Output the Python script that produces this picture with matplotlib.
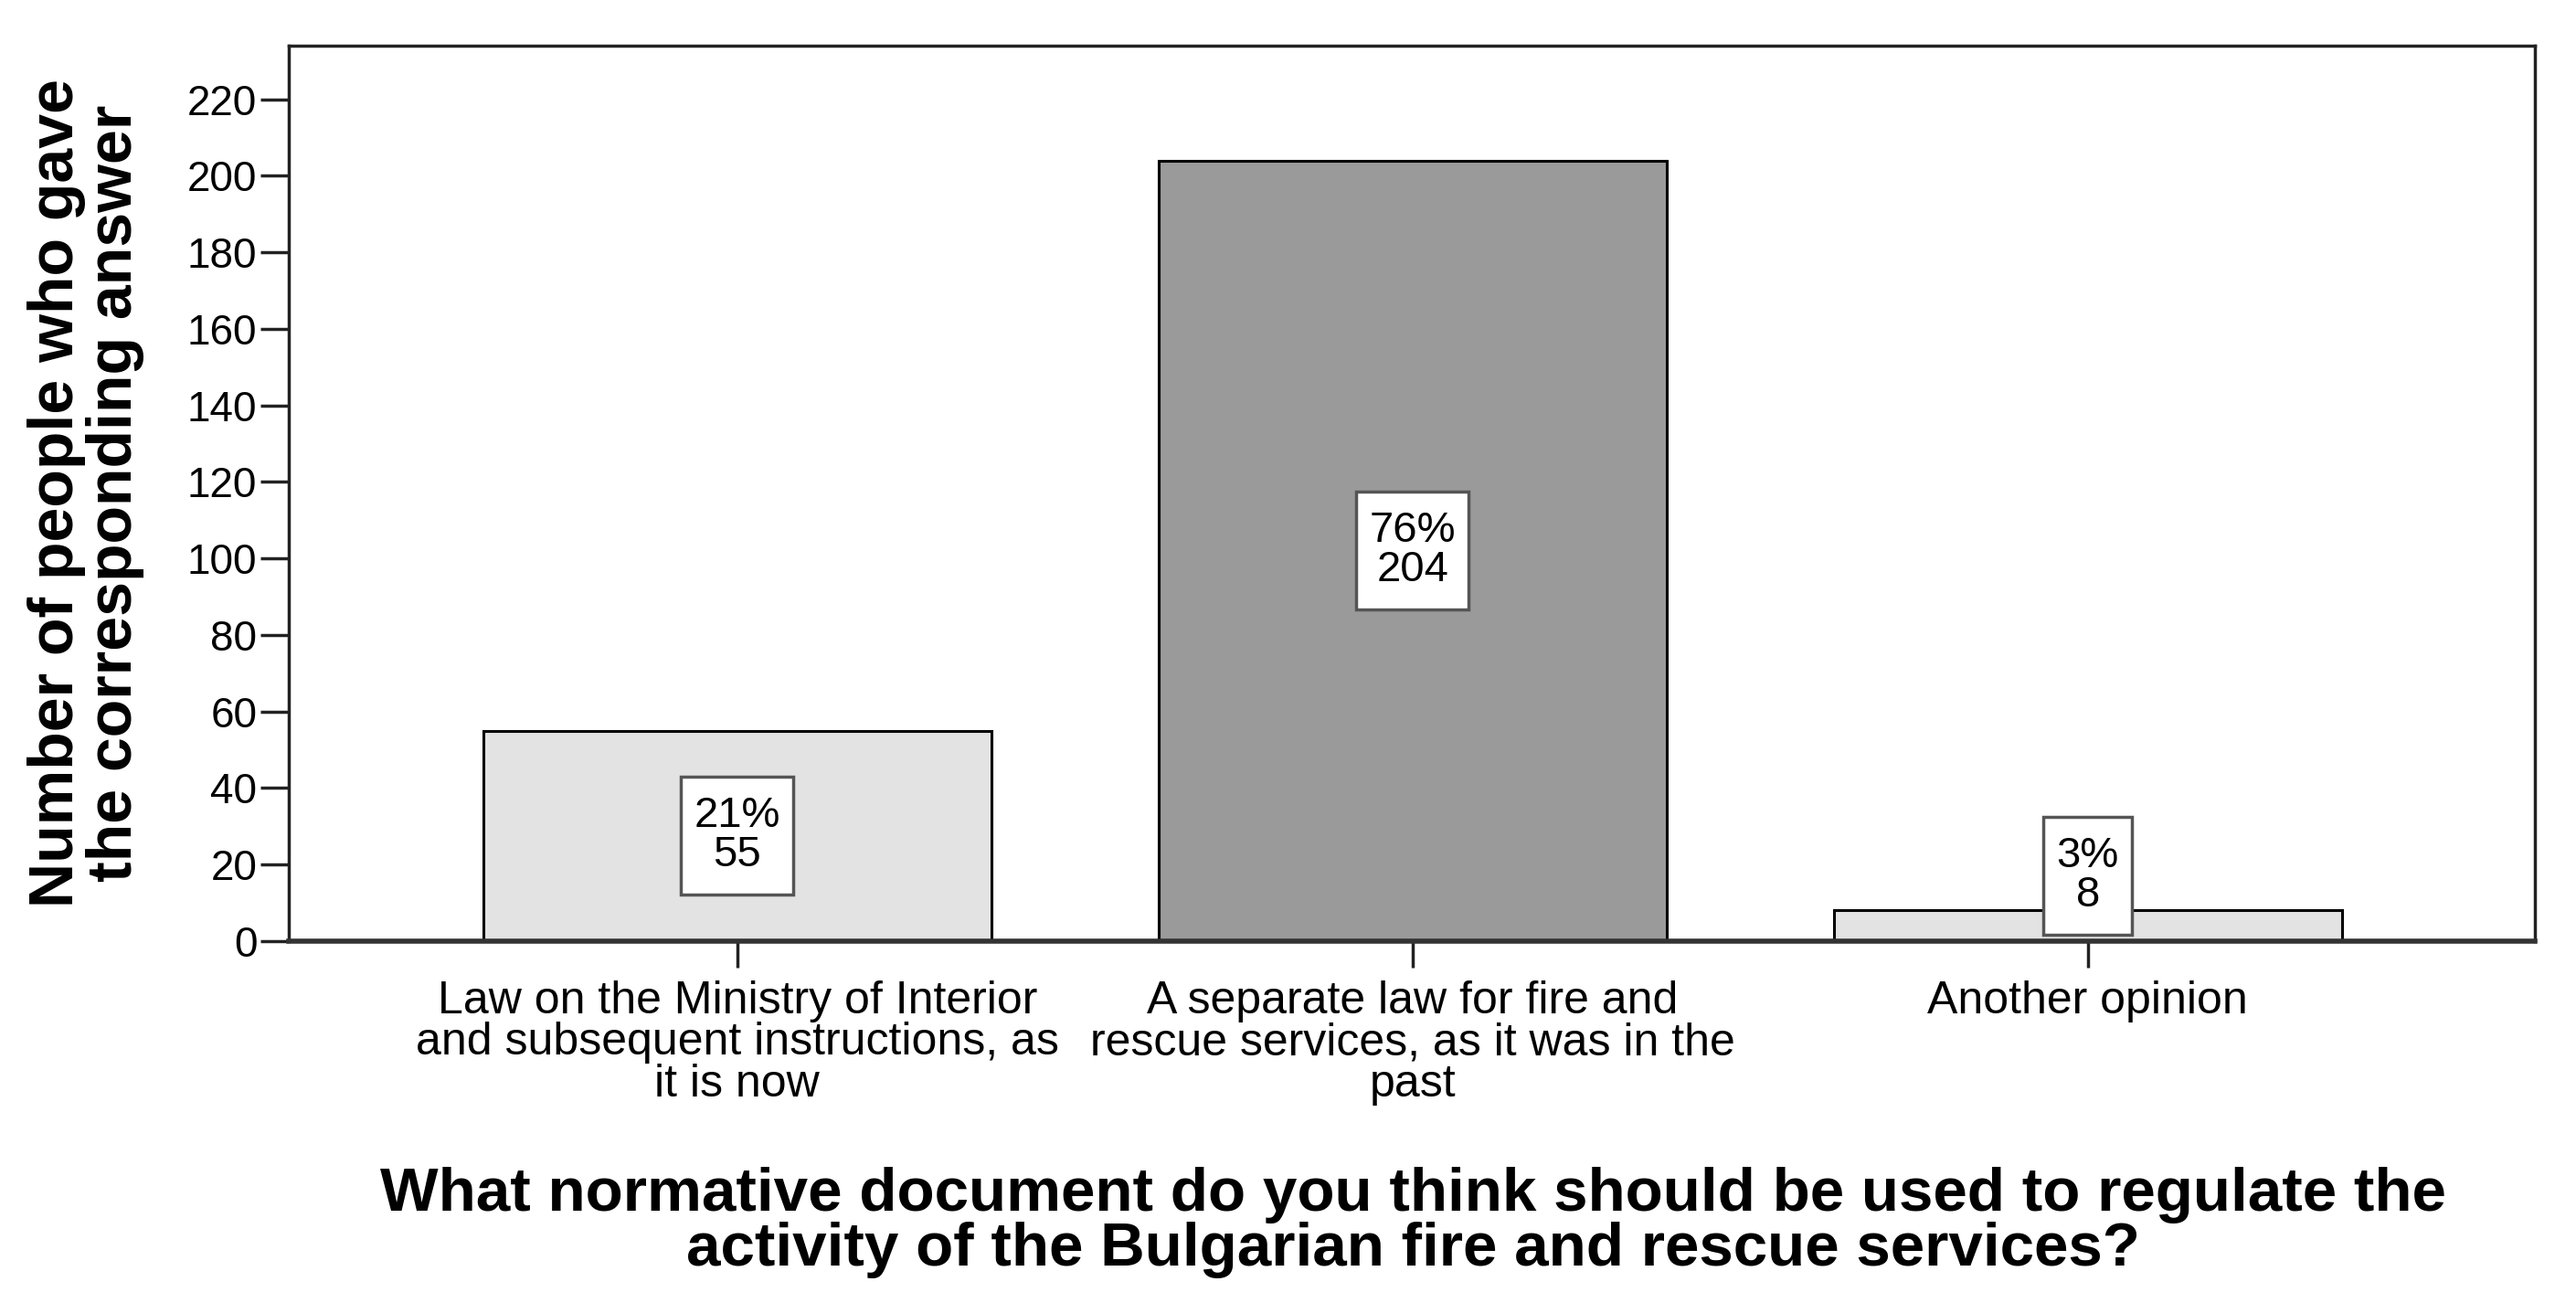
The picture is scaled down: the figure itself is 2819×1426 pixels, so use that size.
import matplotlib
matplotlib.use('Agg')
import matplotlib.pyplot as plt
from matplotlib.path import Path

categories = ["Law on the Ministry of Interior\nand subsequent instructions, as\nit is now",
              "A separate law for fire and\nrescue services, as it was in the\npast",
              "Another opinion"]
counts = [55, 204, 8]
percents = [21, 76, 3]
bar_colors = ["#e3e3e3", "#9a9a9a", "#e3e3e3"]
yticks = list(range(0, 221, 20))
ylabel = "Number of people who gave\nthe corresponding answer"
xlabel = ("What normative document do you think should be used to regulate the\n"
          "activity of the Bulgarian fire and rescue services?")

plt.rcParams['font.family'] = ['Liberation Sans', 'DejaVu Sans']

W, H = 2819, 1426
fig = plt.figure(figsize=(W / 100, H / 100), dpi=100)
L, R, T, B = 316, 2774, 50, 1030
ax = fig.add_axes([L / W, 1 - B / H, (R - L) / W, (B - T) / H])

x = list(range(len(counts)))
ax.bar(x, counts, width=0.752, color=bar_colors, edgecolor='black', linewidth=2.2, zorder=2)
ax.set_xlim(-0.664, 2.662)
ax.set_ylim(0, 234)


def tall_box(x0, y0, width, height, mutation_size):
    padx = 0.3 * mutation_size
    pady = 0.44 * mutation_size
    x0 -= padx
    y0 -= pady
    x1 = x0 + width + 2 * padx
    y1 = y0 + height + 2 * pady
    return Path([(x0, y0), (x1, y0), (x1, y1), (x0, y1), (x0, y0)], closed=True)


for i, (c, p) in enumerate(zip(counts, percents)):
    y = max(c / 2, 17)
    ax.text(i, y, f"{p}%\n{c}", ha='center', va='center', fontsize=34, linespacing=0.98,
            zorder=3,
            bbox=dict(boxstyle=tall_box, fc='white', ec='#555555', lw=2.5))

ax.set_yticks(yticks)
ax.set_yticklabels([str(v) for v in yticks], fontsize=33)
ax.set_xticks(x)
ax.set_xticklabels(categories, fontsize=36)
for lbl in ax.get_xticklabels():
    lbl.set_linespacing(0.98)
ax.tick_params(axis='y', length=22, width=2.5, pad=3, color='#222222')
ax.tick_params(axis='x', length=21, width=2.5, pad=10, color='#222222')

for s in ['top', 'right', 'left']:
    ax.spines[s].set_linewidth(2.5)
    ax.spines[s].set_color('#222222')
ax.spines['bottom'].set_linewidth(4)
ax.spines['bottom'].set_color('#333333')

fig.text(94 / W, 1 - 540 / H, ylabel, rotation=90, ha='center', va='center',
         fontsize=49, fontweight='bold', linespacing=0.99)
fig.text(1546 / W, 1 - 1338 / H, xlabel, ha='center', va='center',
         fontsize=48.5, fontweight='bold', linespacing=0.95)

fig.savefig('out.png', dpi=100)
